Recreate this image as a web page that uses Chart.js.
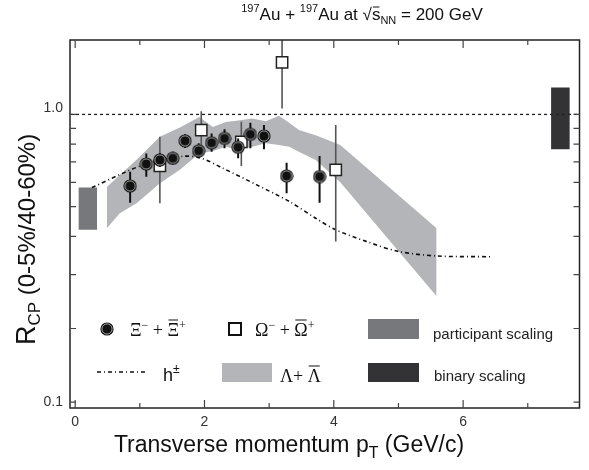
<!DOCTYPE html>
<html>
<head>
<meta charset="utf-8">
<script src="https://cdn.jsdelivr.net/npm/chart.js@4/dist/chart.umd.min.js"></script>
<style>
  body { margin: 0; background: #fff; }
</style>
</head>
<body>
<canvas id="myChart" width="589" height="470"></canvas>
<script>
// Xi- + anti-Xi+ points
const xiX = [0.85, 1.1, 1.31, 1.51, 1.7, 1.91, 2.11, 2.31, 2.52, 2.71, 2.92, 3.27, 3.78];
const xiY = [0.584, 0.689, 0.71, 0.719, 0.82, 0.761, 0.808, 0.835, 0.781, 0.861, 0.85, 0.63, 0.627];
const xiHi = [0.65, 0.746, 0.748, 0.756, 0.863, 0.805, 0.867, 0.894, 0.835, 0.939, 0.923, 0.696, 0.732];
const xiLo = [0.515, 0.626, 0.674, 0.684, 0.777, 0.719, 0.756, 0.775, 0.719, 0.775, 0.769, 0.553, 0.515];

// Omega- + anti-Omega+ points
const omX = [1.31, 1.95, 2.57, 3.2, 4.03];
const omY = [0.679, 0.889, 0.814, 1.48, 0.659];
const omHi = [0.845, 1.025, 0.946, 2.2, 0.923];
const omLo = [0.513, 0.728, 0.679, 1.046, 0.385];

// h+- curve
const hX = [0.26, 1.05, 1.67, 1.95, 2.28, 2.8, 3.31, 3.72, 4.03, 4.5, 5.0, 5.59, 6.44];
const hY = [0.577, 0.684, 0.73, 0.72, 0.668, 0.59, 0.52, 0.458, 0.42, 0.385, 0.357, 0.345, 0.343];

// Lambda + anti-Lambda band
const lamX = [0.49, 0.69, 0.95, 1.31, 1.62, 1.92, 2.13, 2.33, 2.52, 2.74, 2.95, 3.15, 3.31, 3.46, 3.72, 4.1, 5.59];
const lamUp = [0.58, 0.634, 0.711, 0.845, 0.906, 0.98, 0.91, 0.945, 0.955, 0.97, 0.95, 0.99, 0.94, 0.89, 0.855, 0.795, 0.425];
const lamLo = [0.425, 0.476, 0.513, 0.596, 0.66, 0.745, 0.76, 0.784, 0.765, 0.785, 0.805, 0.795, 0.784, 0.755, 0.71, 0.6, 0.255];

// scaling uncertainty boxes
const partX = [0.05, 0.34];
const partY = [0.42, 0.577];
const binX = [7.36, 7.65];
const binY = [0.769, 1.224];

const unityX = [-0.08, 7.8];
const unityY = [1, 1];

const xTicks = [0, 1, 2, 3, 4, 5, 6, 7];
const xTickLabels = ["0", "", "2", "", "4", "", "6", ""];
const yTicks = [0.115, 0.2, 0.3, 0.4, 0.5, 0.6, 0.7, 0.8, 0.9, 1.0];
const yTickLabels = ["0.1", "", "", "", "", "", "", "", "", "1.0"];

const SANS = "'Liberation Sans', Arial, sans-serif";
const SERIF = "'Liberation Serif', 'Times New Roman', serif";
const fnt = (size, fam) => size + "px " + fam;

const pts = (xs, ys) => xs.map((x, i) => ({ x: x, y: ys[i] }));

// ringed black dot marker
const xiMarker = document.createElement("canvas");
xiMarker.width = 14;
xiMarker.height = 14;
(function () {
  const c = xiMarker.getContext("2d");
  c.fillStyle = "#111";
  c.beginPath(); c.arc(7, 7, 6.6, 0, Math.PI * 2); c.fill();
  c.strokeStyle = "#b0b0b0"; c.lineWidth = 0.9;
  c.beginPath(); c.arc(7, 7, 5.1, 0, Math.PI * 2); c.stroke();
})();

function drawRich(c, parts, x, y) {
  parts.forEach((p) => {
    c.font = p.font;
    c.fillText(p.t, x, y + (p.dy || 0));
    const w = c.measureText(p.t).width;
    if (p.over) {
      c.save();
      c.lineWidth = 1;
      c.strokeStyle = c.fillStyle;
      c.beginPath();
      c.moveTo(x + 1, y - p.over);
      c.lineTo(x + w - 1, y - p.over);
      c.stroke();
      c.restore();
    }
    x += w + (p.gap || 0);
  });
}
function richWidth(c, parts) {
  let w = 0;
  parts.forEach((p) => { c.font = p.font; w += c.measureText(p.t).width + (p.gap || 0); });
  return w;
}

const errorBars = {
  id: "errorBars",
  beforeDatasetDraw(chart, args) {
    const ds = chart.data.datasets[args.index];
    if (!ds.errHi) return;
    const c = chart.ctx, a = chart.chartArea;
    const xs = chart.scales.x, ys = chart.scales.y;
    c.save();
    c.beginPath(); c.rect(a.left, a.top, a.right - a.left, a.bottom - a.top); c.clip();
    c.strokeStyle = ds.errColor;
    c.lineWidth = ds.errWidth;
    ds.data.forEach((p, i) => {
      const px = xs.getPixelForValue(p.x);
      c.beginPath();
      c.moveTo(px, ys.getPixelForValue(ds.errHi[i]));
      c.lineTo(px, ys.getPixelForValue(ds.errLo[i]));
      c.stroke();
    });
    c.restore();
  },
};

const decor = {
  id: "decor",
  afterDraw(chart) {
    const c = chart.ctx, a = chart.chartArea;
    const xs = chart.scales.x, ys = chart.scales.y;
    c.save();
    // frame
    c.strokeStyle = "#222";
    c.lineWidth = 1.5;
    c.strokeRect(a.left, a.top, a.right - a.left, a.bottom - a.top);

    // inward ticks
    c.strokeStyle = "#444";
    c.lineWidth = 1.2;
    xTicks.forEach((v, i) => {
      const px = xs.getPixelForValue(v);
      const len = v % 2 === 0 ? 8 : 5;
      c.beginPath();
      c.moveTo(px, a.bottom); c.lineTo(px, a.bottom - len);
      c.moveTo(px, a.top); c.lineTo(px, a.top + len);
      c.stroke();
    });
    yTicks.forEach((v) => {
      const py = ys.getPixelForValue(v);
      c.beginPath();
      c.moveTo(a.left, py); c.lineTo(a.left + 6, py);
      c.moveTo(a.right, py); c.lineTo(a.right - 6, py);
      c.stroke();
    });

    // tick labels
    c.fillStyle = "#333";
    c.font = fnt(14, SANS);
    c.textAlign = "center";
    c.textBaseline = "middle";
    xTicks.forEach((v, i) => {
      if (xTickLabels[i]) c.fillText(xTickLabels[i], xs.getPixelForValue(v), a.bottom + 14);
    });
    c.textAlign = "right";
    yTicks.forEach((v, i) => {
      if (!yTickLabels[i]) return;
      const off = v >= 1 ? -6 : 0;
      c.fillText(yTickLabels[i], a.left - 7, ys.getPixelForValue(v) + off);
    });

    // title
    c.textAlign = "left";
    c.textBaseline = "alphabetic";
    c.fillStyle = "#111";
    const title = [
      { t: "197", font: fnt(11, SANS), dy: -8 },
      { t: "Au + ", font: fnt(17, SANS) },
      { t: "197", font: fnt(11, SANS), dy: -8 },
      { t: "Au at ", font: fnt(17, SANS) },
      { t: "\u221A", font: fnt(17, SANS) },
      { t: "s", font: fnt(17, SANS), over: 13 },
      { t: "NN", font: fnt(11, SANS), dy: 4 },
      { t: " = 200 GeV", font: fnt(17, SANS) },
    ];
    drawRich(c, title, 362 - richWidth(c, title) / 2, 20);

    // x axis title
    const xt = [
      { t: "Transverse momentum p", font: fnt(23, SANS) },
      { t: "T", font: fnt(16, SANS), dy: 6 },
      { t: " (GeV/c)", font: fnt(23, SANS) },
    ];
    drawRich(c, xt, 289 - richWidth(c, xt) / 2, 452);

    // y axis title, reading upwards from the bottom end
    const yt = [
      { t: "R", font: fnt(27, SANS) },
      { t: "CP", font: fnt(17, SANS), dy: 5 },
      { t: " (0-5%/40-60%)", font: fnt(24, SANS) },
    ];
    c.save();
    c.translate(35, 345);
    c.rotate(-Math.PI / 2);
    drawRich(c, yt, 0, 0);
    c.restore();

    // legend
    c.drawImage(xiMarker, 107 - 7, 329 - 7);
    c.fillStyle = "#fff";
    c.strokeStyle = "#111";
    c.lineWidth = 2;
    c.fillRect(229, 323, 12, 12);
    c.strokeRect(229, 323, 12, 12);

    c.fillStyle = "#111";
    drawRich(c, [
      { t: "\u039E", font: fnt(18, SERIF) },
      { t: "\u2212", font: fnt(12, SERIF), dy: -7 },
      { t: " + ", font: fnt(18, SERIF) },
      { t: "\u039E", font: fnt(18, SERIF), over: 16 },
      { t: "+", font: fnt(12, SERIF), dy: -7 },
    ], 130, 336);
    drawRich(c, [
      { t: "\u03A9", font: fnt(18, SERIF) },
      { t: "\u2212", font: fnt(12, SERIF), dy: -7 },
      { t: " + ", font: fnt(18, SERIF) },
      { t: "\u03A9", font: fnt(18, SERIF), over: 16 },
      { t: "+", font: fnt(12, SERIF), dy: -7 },
    ], 255, 336);

    c.strokeStyle = "#111";
    c.lineWidth = 1.6;
    c.setLineDash([4, 3, 1, 3]);
    c.beginPath(); c.moveTo(97, 372); c.lineTo(146, 372); c.stroke();
    c.setLineDash([]);
    drawRich(c, [
      { t: "h", font: fnt(18, SANS) },
      { t: "\u00B1", font: fnt(12, SANS), dy: -8 },
    ], 163, 381);

    c.fillStyle = "#b4b5b8";
    c.fillRect(222, 363, 50, 19);
    c.fillStyle = "#111";
    drawRich(c, [
      { t: "\u039B+ ", font: fnt(18, SERIF) },
      { t: "\u039B", font: fnt(18, SERIF), over: 16 },
    ], 280, 382);

    c.fillStyle = "#77787c";
    c.fillRect(368, 319, 51, 20);
    c.fillStyle = "#333336";
    c.fillRect(368, 363, 51, 19);
    c.fillStyle = "#222";
    c.font = fnt(15, SANS);
    c.fillText("participant scaling", 433, 339);
    c.fillText("binary scaling", 434, 381);
    c.restore();
  },
};

const ctx = document.getElementById("myChart");
const myChart = new Chart(ctx, {
  type: "line",
  data: {
    datasets: [
      {
        data: pts(xiX, xiY),
        showLine: false,
        pointStyle: xiMarker,
        pointRadius: 7,
        errHi: xiHi,
        errLo: xiLo,
        errColor: "#111",
        errWidth: 2,
        order: 0,
      },
      {
        data: pts(omX, omY),
        showLine: false,
        pointStyle: "rect",
        pointRadius: 8,
        pointBackgroundColor: "#fff",
        pointBorderColor: "#222",
        pointBorderWidth: 1.5,
        errHi: omHi,
        errLo: omLo,
        errColor: "#555",
        errWidth: 1.6,
        order: 1,
      },
      {
        data: pts(unityX, unityY),
        borderColor: "#222",
        borderWidth: 1.3,
        borderDash: [3, 3],
        pointRadius: 0,
        order: 2,
      },
      {
        data: pts(hX, hY),
        borderColor: "#111",
        borderWidth: 1.6,
        borderDash: [4, 3, 1, 3],
        pointRadius: 0,
        tension: 0.3,
        order: 3,
      },
      {
        data: pts(binX, [binY[0], binY[0]]),
        borderWidth: 0,
        pointRadius: 0,
        order: 4,
      },
      {
        data: pts(binX, [binY[1], binY[1]]),
        borderWidth: 0,
        pointRadius: 0,
        fill: "-1",
        backgroundColor: "#333336",
        order: 4,
      },
      {
        data: pts(partX, [partY[0], partY[0]]),
        borderWidth: 0,
        pointRadius: 0,
        order: 5,
      },
      {
        data: pts(partX, [partY[1], partY[1]]),
        borderWidth: 0,
        pointRadius: 0,
        fill: "-1",
        backgroundColor: "#77787c",
        order: 5,
      },
      {
        data: pts(lamX, lamLo),
        borderWidth: 0,
        pointRadius: 0,
        order: 6,
      },
      {
        data: pts(lamX, lamUp),
        borderWidth: 0,
        pointRadius: 0,
        fill: "-1",
        backgroundColor: "#b4b5b8",
        order: 6,
      },
    ],
  },
  options: {
    responsive: false,
    animation: false,
    events: [],
    layout: { padding: { left: 70, top: 40, right: 7, bottom: 62 } },
    plugins: { legend: { display: false }, tooltip: { enabled: false } },
    scales: {
      x: { type: "linear", display: false, min: -0.08, max: 7.8 },
      y: { type: "logarithmic", display: false, min: 0.11, max: 1.75 },
    },
  },
  plugins: [errorBars, decor],
});
</script>
</body>
</html>
